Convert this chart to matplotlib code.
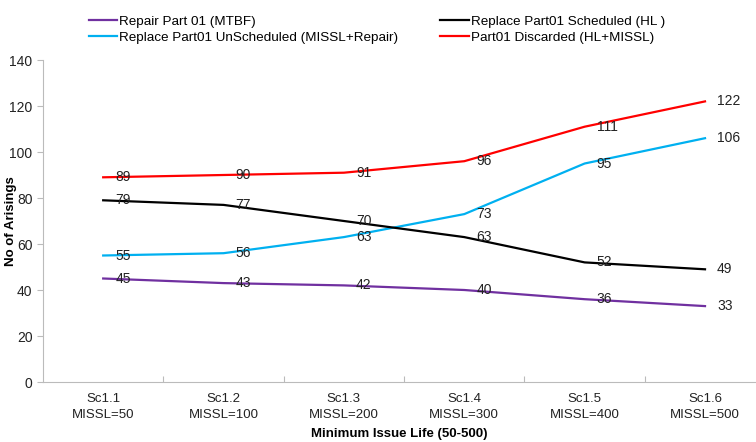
import matplotlib.pyplot as plt
import matplotlib.transforms as mtransforms

plt.rcParams['font.family'] = ['Liberation Sans', 'DejaVu Sans']

scenarios = ["Sc1.1\nMISSL=50", "Sc1.2\nMISSL=100", "Sc1.3\nMISSL=200",
             "Sc1.4\nMISSL=300", "Sc1.5\nMISSL=400", "Sc1.6\nMISSL=500"]
repair = [45, 43, 42, 40, 36, 33]
scheduled = [79, 77, 70, 63, 52, 49]
unscheduled = [55, 56, 63, 73, 95, 106]
discarded = [89, 90, 91, 96, 111, 122]

# ordered so the two-column legend reads row by row like the original
series = [
    ("Repair Part 01 (MTBF)", repair, "#7030A0"),
    ("Replace Part01 UnScheduled (MISSL+Repair)", unscheduled, "#00B0F0"),
    ("Replace Part01 Scheduled (HL )", scheduled, "#000000"),
    ("Part01 Discarded (HL+MISSL)", discarded, "#FF0000"),
]

fig = plt.figure(figsize=(7.56, 4.42), dpi=100)
ax = fig.add_axes([43 / 756, 1 - 382 / 442, 1 - 43 / 756, 322 / 442])

xs = list(range(len(scenarios)))
offset = mtransforms.offset_copy(ax.transData, fig=fig, x=12, y=0, units='dots')
handles = []
for name, vals, color in series:
    h, = ax.plot(xs, vals, color=color, lw=1.6, label=name)
    handles.append(h)
    for x, v in zip(xs, vals):
        ax.text(x, v, str(v), transform=offset, ha='left', va='center',
                fontsize=10, color='#222222')

ax.set_xlim(-0.5, 5 + 51 / 120.4)
ax.set_ylim(0, 140)
ax.set_yticks(range(0, 141, 20))
ax.tick_params(axis='y', colors='#bbbbbb', labelcolor='#222222', labelsize=10, length=4)

# category boundaries get tick marks, labels sit between them
ax.set_xticks([i + 0.5 for i in range(5)])
ax.set_xticklabels([])
ax.set_xticks(xs, minor=True)
ax.set_xticklabels(scenarios, minor=True, fontsize=9.5, color='#222222', linespacing=1.45)
ax.tick_params(axis='x', which='major', colors='#bbbbbb', length=4, direction='in')
ax.tick_params(axis='x', which='minor', length=0, pad=8)

for side in ['top', 'right']:
    ax.spines[side].set_visible(False)
for side in ['left', 'bottom']:
    ax.spines[side].set_color('#bbbbbb')

ax.set_ylabel("No of Arisings", fontsize=9.5, fontweight='bold', va='center')
ax.yaxis.set_label_coords(-0.045, 0.5)
ax.set_xlabel("Minimum Issue Life (50-500)", fontsize=9.5, fontweight='bold', labelpad=5)

fig.legend(handles=handles, loc='upper left', bbox_to_anchor=(77 / 756, 1 - 3 / 442),
           ncol=2, frameon=False, fontsize=9.7, handlelength=2.1, handletextpad=0.15,
           columnspacing=3.1, labelspacing=0.3)

fig.savefig("out.png", dpi=100)
